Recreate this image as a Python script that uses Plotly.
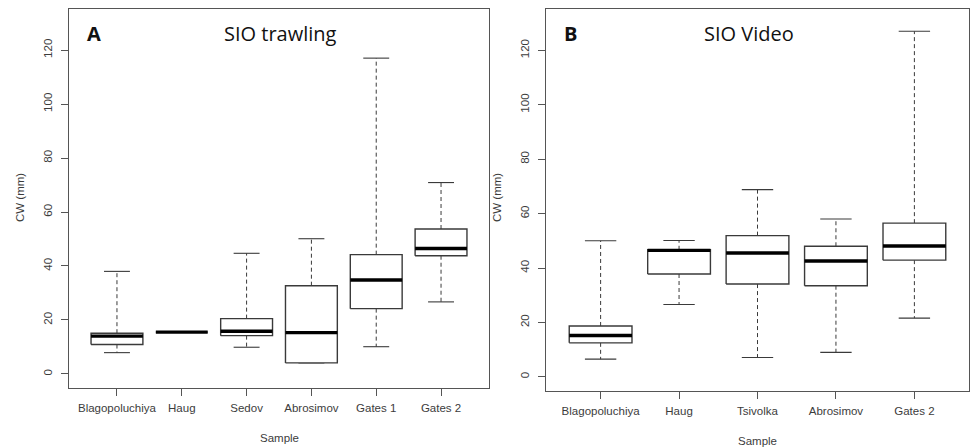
import plotly.graph_objects as go

# ---- data ----
trawl_names = ["Blagopoluchiya", "Haug", "Sedov", "Abrosimov", "Gates 1", "Gates 2"]
trawl_lower = [7.9, 15.5, 9.9, 4.1, 10.1, 26.7]
trawl_q1 = [10.9, 15.5, 14.2, 4.1, 24.2, 43.8]
trawl_median = [14.0, 15.5, 15.8, 15.3, 34.8, 46.5]
trawl_q3 = [15.1, 15.5, 20.5, 32.7, 44.2, 53.7]
trawl_upper = [38.0, 15.5, 44.7, 50.1, 117.0, 70.9]

video_names = ["Blagopoluchiya", "Haug", "Tsivolka", "Abrosimov", "Gates 2"]
video_lower = [6.5, 26.6, 7.1, 9.0, 21.6]
video_q1 = [12.5, 37.8, 34.1, 33.5, 42.9]
video_median = [15.2, 46.5, 45.5, 42.6, 48.1]
video_q3 = [18.7, 46.7, 51.9, 48.0, 56.5]
video_upper = [50.0, 50.1, 68.8, 58.0, 127.0]

y_ticks = [0, 20, 40, 60, 80, 100, 120]
y_limits = [0, 130]

BOX_HALF = 0.4
CAP_HALF = 0.2
LINE_COL = "#3a3a3a"
FRAME_COL = "#555555"
TEXT_COL = "#3c3c3c"
TICK_FONT = dict(family="Liberation Sans, Arial, sans-serif", size=11.5, color=TEXT_COL)

fig = go.Figure()


def add_panel(names, lower, q1, med, q3, upper, xa, ya):
    wx, wy, cx, cy, bx, by, mx, my = [], [], [], [], [], [], [], []
    for i in range(len(names)):
        p = i + 1
        # whiskers
        wx += [p, p, None, p, p, None]
        wy += [q3[i], upper[i], None, q1[i], lower[i], None]
        # caps
        cx += [p - CAP_HALF, p + CAP_HALF, None, p - CAP_HALF, p + CAP_HALF, None]
        cy += [upper[i], upper[i], None, lower[i], lower[i], None]
        # box
        bx += [p - BOX_HALF, p + BOX_HALF, p + BOX_HALF, p - BOX_HALF, p - BOX_HALF, None]
        by += [q1[i], q1[i], q3[i], q3[i], q1[i], None]
        # median
        mx += [p - BOX_HALF, p + BOX_HALF, None]
        my += [med[i], med[i], None]
    common = dict(mode="lines", xaxis=xa, yaxis=ya, showlegend=False, hoverinfo="skip")
    fig.add_trace(go.Scatter(x=wx, y=wy, line=dict(color=LINE_COL, width=1, dash="4px,3px"), **common))
    fig.add_trace(go.Scatter(x=cx, y=cy, line=dict(color=LINE_COL, width=1.1), **common))
    fig.add_trace(go.Scatter(x=bx, y=by, fill="toself", fillcolor="white",
                             line=dict(color=LINE_COL, width=1.4), **common))
    fig.add_trace(go.Scatter(x=mx, y=my, line=dict(color="#000000", width=3.4), **common))


add_panel(trawl_names, trawl_lower, trawl_q1, trawl_median, trawl_q3, trawl_upper, "x", "y")
add_panel(video_names, video_lower, video_q1, video_median, video_q3, video_upper, "x2", "y2")

W, H = 971, 448


def xaxis_cfg(names, domain):
    n = len(names)
    ext = 0.04 * n
    return dict(domain=domain, range=[0.5 - ext, n + 0.5 + ext],
                tickvals=list(range(1, n + 1)), ticktext=names,
                ticks="outside", ticklen=7, tickcolor=FRAME_COL, tickwidth=1.1,
                showline=True, mirror=True, linecolor=FRAME_COL, linewidth=1.3,
                showgrid=False, zeroline=False, tickfont=TICK_FONT, fixedrange=True,
                ticklabelstandoff=2)


def yaxis_cfg(domain, anchor):
    span = y_limits[1] - y_limits[0]
    return dict(domain=domain, anchor=anchor,
                range=[y_limits[0] - 0.04 * span, y_limits[1] + 0.04 * span],
                tickvals=y_ticks, ticktext=[str(v) for v in y_ticks], tickangle=-90,
                ticks="outside", ticklen=7, tickcolor=FRAME_COL, tickwidth=1.1,
                showline=True, mirror=True, linecolor=FRAME_COL, linewidth=1.3,
                showgrid=False, zeroline=False, tickfont=TICK_FONT, fixedrange=True,
                ticklabelstandoff=4)


lx = [69 / W, 489 / W]
rx = [545.7 / W, 969.3 / W]
ly = [(H - 388) / H, (H - 9) / H]
ry = [(H - 391) / H, (H - 9) / H]

fig.update_layout(
    width=W, height=H,
    margin=dict(l=0, r=0, t=0, b=0),
    paper_bgcolor="white", plot_bgcolor="white",
    xaxis=xaxis_cfg(trawl_names, lx) | dict(anchor="y"),
    yaxis=yaxis_cfg(ly, "x"),
    xaxis2=xaxis_cfg(video_names, rx) | dict(anchor="y2"),
    yaxis2=yaxis_cfg(ry, "x2"),
)

TITLE_FONT = dict(family="Open Sans, sans-serif", size=20, color="#111111")
ann = [
    dict(text="<b>A</b>", x=94, y=33),
    dict(text="SIO trawling", x=280, y=33),
    dict(text="<b>B</b>", x=570, y=33),
    dict(text="SIO Video", x=749, y=33),
]
for a in ann:
    fig.add_annotation(text=a["text"], x=a["x"] / W, y=1 - a["y"] / H, xref="paper", yref="paper",
                       showarrow=False, xanchor="center", yanchor="middle", font=TITLE_FONT)

axis_titles = [
    dict(text="CW (mm)", x=20, y=198, angle=-90),
    dict(text="Sample", x=279, y=438, angle=0),
    dict(text="CW (mm)", x=497, y=198, angle=-90),
    dict(text="Sample", x=757, y=441, angle=0),
]
for a in axis_titles:
    fig.add_annotation(text=a["text"], x=a["x"] / W, y=1 - a["y"] / H, xref="paper", yref="paper",
                       showarrow=False, xanchor="center", yanchor="middle", textangle=a["angle"],
                       font=TICK_FONT)

fig.write_html(
    "out.html",
    config={"displayModeBar": False},
    post_script="document.body.style.margin='0';document.body.style.overflow='hidden';",
)
